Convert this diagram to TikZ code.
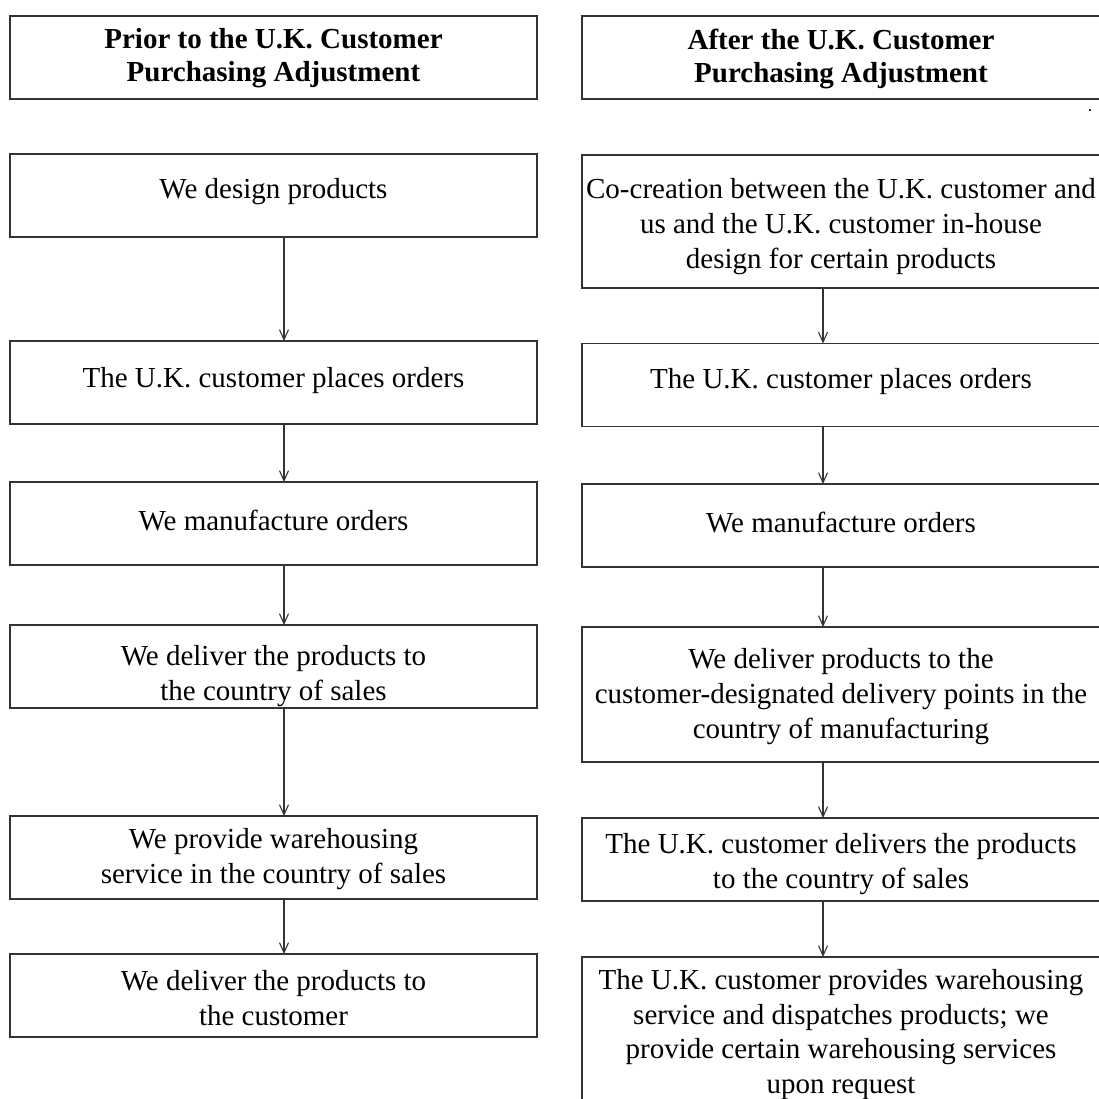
\documentclass[tikz,border=0pt]{standalone}
\usepackage{fontspec}
\setmainfont{Liberation Serif}
\usetikzlibrary{arrows.meta}

\tikzset{
  stepbox/.style={draw=black!80, line width=1.2pt, inner sep=0pt, outer sep=0pt,
                  minimum height=#1},
  stepbox/.default=83pt,
  lbox/.style={stepbox=#1, minimum width=527pt},
  lbox/.default=83pt,
  rbox/.style={stepbox=#1, minimum width=523pt},
  rbox/.default=83pt,
  steptext/.style={align=center, inner sep=0pt,
                   font=\fontsize{29}{35}\selectfont},
  headtext/.style={steptext, font=\fontsize{29}{33}\selectfont\bfseries},
  flow/.style={draw=black!80, line width=1.1pt,
               -{Straight Barb[length=10pt,width=9pt,line width=1.1pt]}},
}

\begin{document}
\begin{tikzpicture}[x=1pt, y=-1pt]
\useasboundingbox (0,0) rectangle (1098,1099);

% ---- left column: before the adjustment ----
\node[lbox] (lh) at (273.5,57.5) {};
\node[lbox] (l1) at (273.5,195.5) {};
\node[lbox] (l2) at (273.5,382.5) {};
\node[lbox] (l3) at (273.5,523.5) {};
\node[lbox] (l4) at (273.5,666.5) {};
\node[lbox] (l5) at (273.5,857.5) {};
\node[lbox] (l6) at (273.5,995.5) {};

\node[headtext] (tlh) at (273.5,58.5) {Prior to the U.K. Customer\\Purchasing Adjustment};
\node[steptext] (tl1) at (273.5,192) {We design products};
\node[steptext] (tl2) at (273.5,381) {The U.K. customer places orders};
\node[steptext] (tl3) at (273.5,521) {We manufacture orders};
\node[steptext] (tl4) at (273.5,676) {We deliver the products to\\the country of sales};
\node[steptext] (tl5) at (273.5,859) {We provide warehousing\\service in the country of sales};
\node[steptext] (tl6) at (273.5,998) {We deliver the products to\\the customer};

\coordinate (lx) at (284,0);
\foreach \a/\b in {l1/l2, l2/l3, l3/l4, l4/l5, l5/l6}
  \draw[flow] (\a.south -| lx) -- (\b.north -| lx);

% ---- right column: after the adjustment ----
\node[rbox] (rh) at (843.5,57.5) {};
\node[rbox=133pt] (r1) at (843.5,221.5) {};
\node[rbox] (r2) at (843.5,385) {};
\node[rbox] (r3) at (843.5,525.5) {};
\node[rbox=135pt] (r4) at (843.5,694.5) {};
\node[rbox] (r5) at (843.5,859.5) {};
\node[rbox=160pt] (r6) at (843.5,1037) {};

\node[headtext] (trh) at (841,58.5) {After the U.K. Customer\\Purchasing Adjustment};
\node[steptext] (tr1) at (841,226.5) {Co-creation between the U.K. customer and\\us and the U.K. customer in-house\\design for certain products};
\node[steptext] (tr2) at (841,382) {The U.K. customer places orders};
\node[steptext] (tr3) at (841,523) {We manufacture orders};
\node[steptext] (tr4) at (841,697) {We deliver products to the\\customer-designated delivery points in the\\country of manufacturing};
\node[steptext] (tr5) at (841,864) {The U.K. customer delivers the products\\to the country of sales};
\node[steptext, font=\fontsize{29}{34.5}\selectfont] (tr6) at (841,1034.5) {The U.K. customer provides warehousing\\service and dispatches products; we\\provide certain warehousing services\\upon request};

\coordinate (rx) at (823,0);
\foreach \a/\b in {r1/r2, r2/r3, r3/r4, r4/r5, r5/r6}
  \draw[flow] (\a.south -| rx) -- (\b.north -| rx);

% stray mark below the right header
\fill[black!80] (1089,109) rectangle (1091,111);
\end{tikzpicture}
\end{document}
